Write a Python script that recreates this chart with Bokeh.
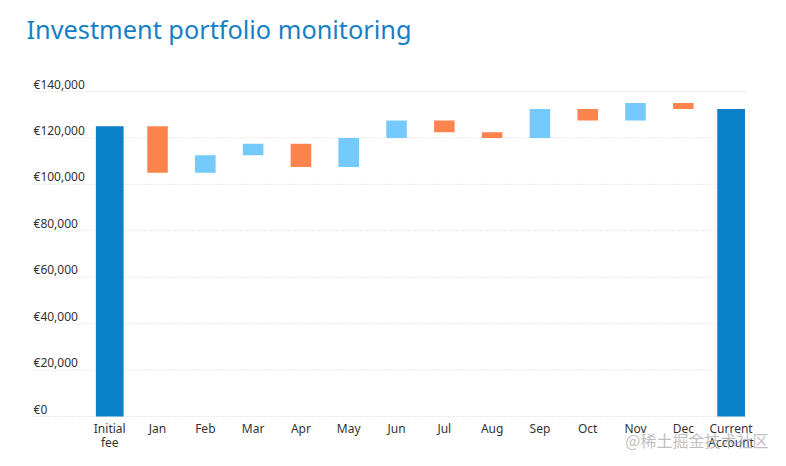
from bokeh.plotting import figure
from bokeh.models import Range1d, Label
from bokeh.core.properties import value
from bokeh.embed import file_html
from bokeh.resources import INLINE

# ---- data ----
title_text = "Investment portfolio monitoring"
categories = ["Initial\nfee", "Jan", "Feb", "Mar", "Apr", "May", "Jun", "Jul",
              "Aug", "Sep", "Oct", "Nov", "Dec", "Current\nAccount"]
initial_fee = 125000
monthly_changes = [-20000, 7500, 5000, -10000, 12500, 7500, -5000, -2500,
                   12500, -5000, 7500, -2500]
y_ticks = [0, 20000, 40000, 60000, 80000, 100000, 120000, 140000]
y_tick_labels = ["€0", "€20,000", "€40,000", "€60,000", "€80,000",
                 "€100,000", "€120,000", "€140,000"]

FONT = "Noto Sans"
TOTAL_COLOR = "#0a80c9"
UP_COLOR = "#74c9fd"
DOWN_COLOR = "#fe844e"
X_START, X_LABEL, X_GRID_RIGHT, X_RIGHT = -2.285, -1.594, 13.34, 13.824
Y_BOTTOM, Y_TOP = -14646, 179200

# waterfall geometry from the data
running = initial_fee
m_x, m_bottom, m_top, m_color = [], [], [], []
for i, ch in enumerate(monthly_changes):
    start = running
    running = running + ch
    m_x.append(i + 1)
    m_bottom.append(min(start, running))
    m_top.append(max(start, running))
    m_color.append(UP_COLOR if ch > 0 else DOWN_COLOR)
current_account = running

p = figure(width=770, height=450, output_backend="svg", toolbar_location=None,
           x_range=Range1d(X_START, X_RIGHT), y_range=Range1d(Y_BOTTOM, Y_TOP),
           min_border_left=0, min_border_right=0, min_border_bottom=0,
           min_border_top=0)
p.outline_line_color = None
p.background_fill_color = "white"
p.border_fill_color = "white"
p.xaxis.visible = False
p.yaxis.visible = False
p.grid.visible = False

# title
p.add_layout(Label(x=X_LABEL, y=166800, x_offset=-7, text=title_text,
                   text_align="left", text_baseline="alphabetic",
                   text_font=FONT, text_font_size="25.3px",
                   text_color="#1680c6"))

# dotted gridlines at the y ticks
p.segment(x0=[X_LABEL] * len(y_ticks), x1=[X_GRID_RIGHT] * len(y_ticks),
          y0=y_ticks, y1=y_ticks, line_color="#d4d4d4", line_dash="1 2",
          line_width=1)

# y labels above gridlines
p.text(x=[X_LABEL] * len(y_ticks), y=y_ticks, text=y_tick_labels,
       text_align="left", text_baseline="bottom", y_offset=1,
       text_font=value(FONT), text_font_size="12px", text_color="#333333")

# category labels under the bars
p.text(x=list(range(len(categories))), y=[0] * len(categories), text=categories,
       text_align="center", text_baseline="top", y_offset=3,
       text_line_height=0.85,
       text_font=value(FONT), text_font_size="12px", text_color="#333333")

# bars
p.vbar(x=[0, len(categories) - 1], bottom=[0, 0],
       top=[initial_fee, current_account], width=0.58,
       fill_color=TOTAL_COLOR, line_color=None)
p.vbar(x=m_x, bottom=m_bottom, top=m_top, width=0.43,
       fill_color=m_color, line_color=None)

# watermark
p.add_layout(Label(x=X_RIGHT, y=-10000, x_offset=-2, text="@稀土掘金技术社区",
                   text_align="right", text_baseline="middle",
                   text_font="Noto Sans CJK SC", text_font_size="16px",
                   text_color="#aaaaaa", text_alpha=0.75))

open("out.html", "w").write(file_html(p, INLINE))
